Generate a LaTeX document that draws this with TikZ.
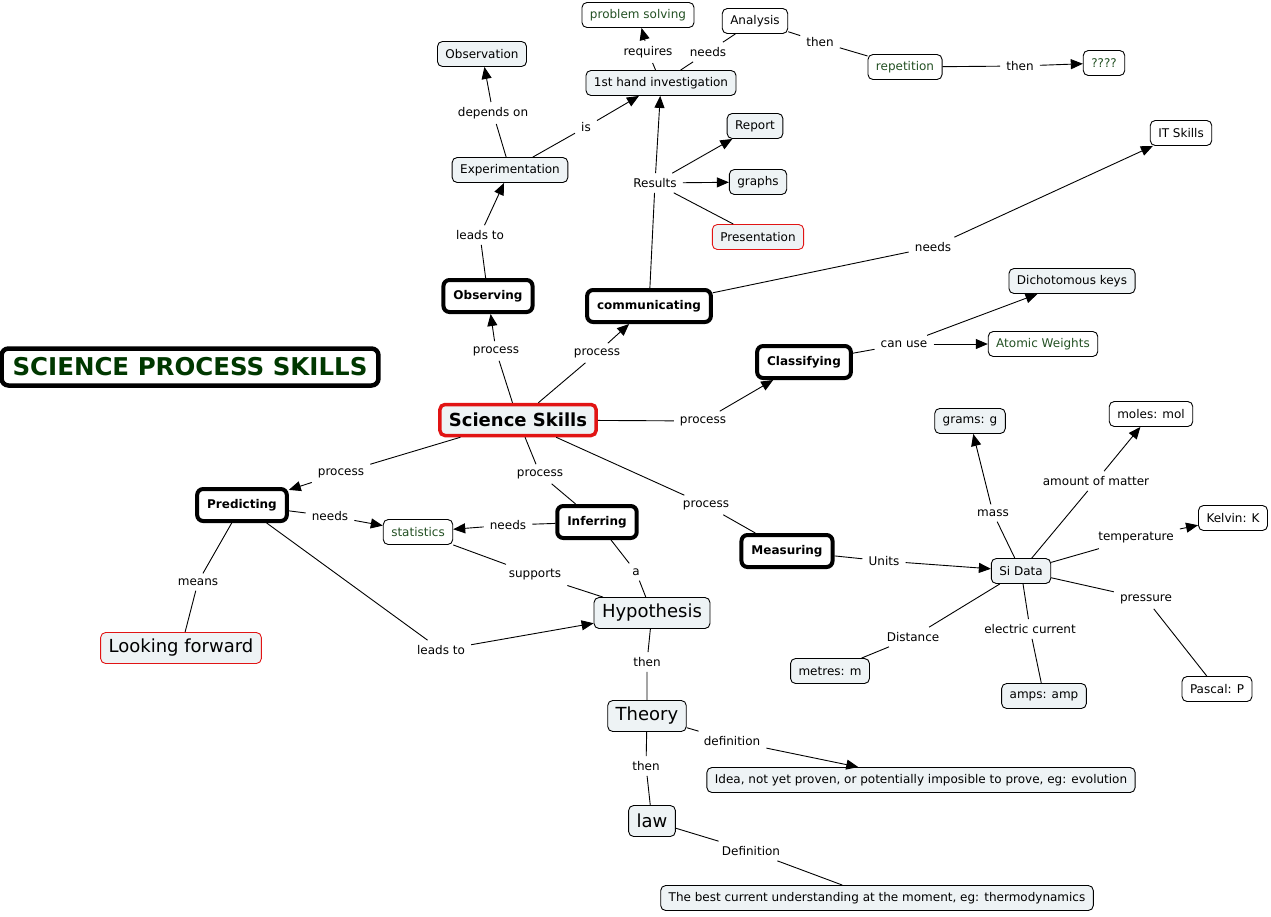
\documentclass[tikz,border=0pt]{standalone}
\usepackage{fontspec}
\setmainfont{DejaVu Sans}
\usetikzlibrary{arrows.meta}
\definecolor{nodefill}{RGB}{238,243,245}
\definecolor{titlegreen}{RGB}{0,56,0}
\definecolor{leafgreen}{RGB}{35,80,35}
\definecolor{mapred}{RGB}{225,20,20}

\begin{document}
\begin{tikzpicture}[x=1pt, y=-1pt,
          every node/.style={font=\fontsize{12}{14}\selectfont},
          box/.style={draw, line width=0.9pt, rounded corners=5pt, minimum height=25pt, inner xsep=8pt, inner ysep=2pt},
          fbox/.style={box, fill=nodefill},
          gbox/.style={box, text=leafgreen},
          skill/.style={draw, fill=white, line width=4pt, rounded corners=6pt, minimum height=32pt, inner xsep=10pt, font=\fontsize{12}{14}\selectfont\bfseries},
          big/.style={fbox, minimum height=31pt, inner xsep=8pt, font=\fontsize{18}{21}\selectfont},
          link/.style={inner xsep=6pt, inner ysep=5pt},
          arrow/.style={-{Triangle[length=12pt,width=10pt]}, line width=0.9pt},
          plain/.style={line width=0.9pt}
        ]
          \useasboundingbox (0,0) rectangle (1271,916);

          % Title
          \node[draw, line width=4.5pt, rounded corners=7pt, minimum height=37pt, inner xsep=11pt, text=titlegreen, font=\fontsize{24.5}{28}\selectfont\bfseries] (title) at (190,367) {SCIENCE PROCESS SKILLS};

          % Centre and the process skills
          \node[fbox, draw=mapred, line width=3.5pt, minimum height=31pt, inner xsep=9pt, font=\fontsize{18}{21}\selectfont\bfseries] (sci) at (518,420) {Science Skills};
          \node[skill] (observing) at (488,296) {Observing};
          \node[skill] (communicating) at (649,306) {communicating};
          \node[skill] (classifying) at (804,362) {Classifying};
          \node[skill] (predicting) at (242,505) {Predicting};
          \node[skill] (inferring) at (597,522) {Inferring};
          \node[skill] (measuring) at (787,551) {Measuring};

          % Observing branch
          \node[fbox] (experimentation) at (510,170) {Experimentation};
          \node[fbox] (observation) at (482,54) {Observation};
          \node[fbox] (firsthand) at (661,83) {1st hand investigation};
          \node[gbox] (problem) at (638,15) {problem solving};
          \node[box] (analysis) at (755,21) {Analysis};
          \node[gbox] (repetition) at (905,67) {repetition};
          \node[gbox] (unknown) at (1104,63) {????};

          % Communicating branch
          \node[fbox] (report) at (755,126) {Report};
          \node[fbox] (graphs) at (758,182) {graphs};
          \node[fbox, draw=mapred] (presentation) at (758,237) {Presentation};
          \node[box] (itskills) at (1181,133) {IT Skills};

          % Classifying branch
          \node[fbox] (keys) at (1072,281) {Dichotomous keys};
          \node[gbox] (atomic) at (1043,344) {Atomic Weights};

          % Predicting and Inferring
          \node[gbox] (statistics) at (418,532) {statistics};
          \node[big, draw=mapred] (forward) at (181,648) {Looking forward};
          \node[big] (hypothesis) at (652,613) {Hypothesis};
          \node[big] (theory) at (647,716) {Theory};
          \node[big] (law) at (652,821) {law};
          \node[fbox] (idea) at (921,780) {Idea, not yet proven, or potentially imposible to prove, eg: evolution};
          \node[fbox] (best) at (877,898) {The best current understanding at the moment, eg: thermodynamics};

          % Measuring branch
          \node[fbox] (sidata) at (1021,571) {Si Data};
          \node[fbox] (grams) at (970,421) {grams: g};
          \node[box] (moles) at (1151,414) {moles: mol};
          \node[box] (kelvin) at (1233,518) {Kelvin: K};
          \node[fbox] (metres) at (830,671) {metres: m};
          \node[fbox] (amps) at (1044,696) {amps: amp};
          \node[box] (pascal) at (1217,689) {Pascal: P};

          % Linking phrases
          \node[link] (l-obs) at (496,351) {process};
          \node[link] (l-com) at (597,353) {process};
          \node[link] (l-cla) at (703,421) {process};
          \node[link] (l-inf) at (540,474) {process};
          \node[link] (l-mea) at (706,505) {process};
          \node[link] (l-pre) at (341,473) {process};
          \node[link] (l-leads) at (480,235) {leads to};
          \node[link] (l-depends) at (493,113) {depends on};
          \node[link] (l-is) at (586,127) {is};
          \node[link] (l-requires) at (648,52) {requires};
          \node[link] (l-needs) at (708,52) {needs};
          \node[link] (l-then-a) at (820,42) {then};
          \node[link] (l-then-b) at (1020,66) {then};
          \node[link] (results) at (655,183) {Results};
          \node[link] (l-itneeds) at (933,247) {needs};
          \node[link] (l-canuse) at (904,344) {can use};
          \node[link] (l-pneeds) at (330,516) {needs};
          \node[link] (l-ineeds) at (508,525) {needs};
          \node[link] (l-supports) at (535,575) {supports};
          \node[link] (l-a) at (636,572) {a};
          \node[link] (l-means) at (198,582) {means};
          \node[link] (l-pleads) at (441,650) {leads to};
          \node[link] (l-then-c) at (647,662) {then};
          \node[link] (l-then-d) at (646,766) {then};
          \node[link] (l-def) at (732,741) {definition};
          \node[link] (l-Def) at (751,851) {Definition};
          \node[link] (l-units) at (884,561) {Units};
          \node[link] (l-mass) at (993,513) {mass};
          \node[link] (l-amount) at (1096,481) {amount of matter};
          \node[link] (l-temp) at (1136,538) {temperature};
          \node[link] (l-dist) at (913,637) {Distance};
          \node[link] (l-elec) at (1030,629) {electric current};
          \node[link] (l-press) at (1146,599) {pressure};

          % Science Skills to the skills
          \draw[plain] (sci) -- (l-obs);
          \draw[arrow] (l-obs) -- (observing);
          \draw[plain] (sci) -- (l-com);
          \draw[arrow] (l-com) -- (communicating);
          \draw[plain] (sci) -- (l-cla);
          \draw[arrow] (l-cla) -- (classifying);
          \draw[plain] (sci) -- (l-inf) -- (inferring);
          \draw[plain] (sci) -- (l-mea) -- (measuring);
          \draw[plain] (sci) -- (l-pre);
          \draw[arrow] (l-pre) -- (predicting);

          % Observing branch
          \draw[plain] (observing) -- (l-leads);
          \draw[arrow] (l-leads) -- (experimentation);
          \draw[plain] (experimentation) -- (l-depends);
          \draw[arrow] (l-depends) -- (observation);
          \draw[plain] (experimentation) -- (l-is);
          \draw[arrow] (l-is) -- (firsthand);
          \draw[plain] (firsthand) -- (l-requires);
          \draw[arrow] (l-requires) -- (problem);
          \draw[plain] (firsthand) -- (l-needs) -- (analysis);
          \draw[plain] (analysis) -- (l-then-a) -- (repetition);
          \draw[plain] (repetition) -- (l-then-b);
          \draw[arrow] (l-then-b) -- (unknown);

          % Communicating branch
          \draw[plain] (communicating) -- (results);
          \draw[arrow] (results) -- (firsthand);
          \draw[arrow] (results) -- (report);
          \draw[arrow] (results) -- (graphs);
          \draw[plain] (results) -- (presentation);
          \draw[plain] (communicating) -- (l-itneeds);
          \draw[arrow] (l-itneeds) -- (itskills);

          % Classifying branch
          \draw[plain] (classifying) -- (l-canuse);
          \draw[arrow] (l-canuse) -- (keys);
          \draw[arrow] (l-canuse) -- (atomic);

          % Predicting and Inferring
          \draw[plain] (predicting) -- (l-pneeds);
          \draw[arrow] (l-pneeds) -- (statistics);
          \draw[plain] (inferring) -- (l-ineeds);
          \draw[arrow] (l-ineeds) -- (statistics);
          \draw[plain] (statistics) -- (l-supports) -- (hypothesis);
          \draw[plain] (inferring) -- (l-a) -- (hypothesis);
          \draw[plain] (predicting) -- (l-means) -- (forward);
          \draw[plain] (predicting) -- (l-pleads);
          \draw[arrow] (l-pleads) -- (hypothesis);
          \draw[plain] (hypothesis) -- (l-then-c) -- (theory);
          \draw[plain] (theory) -- (l-def);
          \draw[arrow] (l-def) -- (idea);
          \draw[plain] (theory) -- (l-then-d) -- (law);
          \draw[plain] (law) -- (l-Def) -- (best);

          % Measuring branch
          \draw[plain] (measuring) -- (l-units);
          \draw[arrow] (l-units) -- (sidata);
          \draw[plain] (sidata) -- (l-mass);
          \draw[arrow] (l-mass) -- (grams);
          \draw[plain] (sidata) -- (l-amount);
          \draw[arrow] (l-amount) -- (moles);
          \draw[plain] (sidata) -- (l-temp);
          \draw[arrow] (l-temp) -- (kelvin);
          \draw[plain] (sidata) -- (l-dist) -- (metres);
          \draw[plain] (sidata) -- (l-elec) -- (amps);
          \draw[plain] (sidata) -- (l-press) -- (pascal);

        \end{tikzpicture}
\end{document}
